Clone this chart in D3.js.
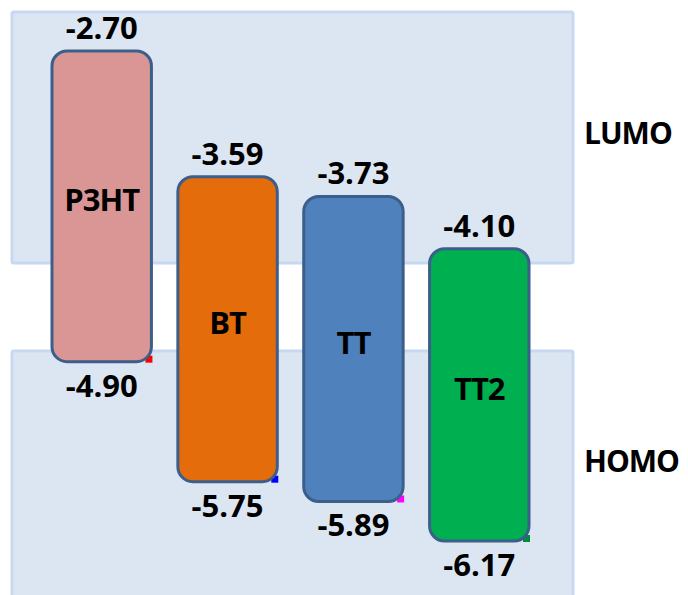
<!DOCTYPE html>
<html>
<head>
<meta charset="utf-8">
<script src="https://cdn.jsdelivr.net/npm/d3@7"></script>
<style>
  html, body { margin: 0; padding: 0; background: #ffffff; }
  svg { display: block; }
  text { font-family: "Open Sans", Lato, sans-serif; font-weight: bold; fill: #000; }
</style>
</head>
<body>
<svg id="chart" width="688" height="595"></svg>
<script>
// Frontier orbital energies (eV) of the donor polymer and the three small molecules
const materials = ["P3HT", "BT", "TT", "TT2"];
const lumo = [-2.70, -3.59, -3.73, -4.10];
const homo = [-4.90, -5.75, -5.89, -6.17];
const fills = ["#d99694", "#e46c0a", "#4f81bd", "#00b050"];
const cornerColors = ["#ff0000", "#0000ff", "#ff00ff", "#008a3e"];
const levelNames = ["LUMO", "HOMO"];

const svg = d3.select("#chart");

// energy axis (not drawn): more negative energies lie lower on the page
const y = d3.scaleLinear().domain([-2.70, -6.17]).range([51, 541]);
const x = d3.scaleBand().domain(materials).range([52, 529]).paddingInner(0.21).paddingOuter(0);

const FS = 31;

// shaded LUMO / HOMO regions
const regions = [
  { name: levelNames[0], x0: 12, x1: 573, y0: 12, y1: 263, labelY: 144 },
  { name: levelNames[1], x0: 12, x1: 573, y0: 351, y1: 606, labelY: 472 }
];
svg.selectAll("rect.region").data(regions).join("rect")
  .attr("class", "region")
  .attr("x", d => d.x0).attr("y", d => d.y0)
  .attr("width", d => d.x1 - d.x0).attr("height", d => d.y1 - d.y0)
  .attr("rx", 2)
  .attr("fill", "#dce6f2")
  .attr("stroke", "#c6d9f1").attr("stroke-width", 3);

svg.selectAll("text.region-label").data(regions).join("text")
  .attr("class", "region-label")
  .attr("x", 584).attr("y", d => d.labelY)
  .attr("font-size", 30)
  .attr("letter-spacing", -1)
  .text(d => d.name);

const rows = materials.map((m, i) => ({ name: m, lumo: lumo[i], homo: homo[i], fill: fills[i], corner: cornerColors[i] }));

// small colour tab peeking out at each bar's lower-right corner
svg.selectAll("rect.corner").data(rows).join("rect")
  .attr("class", "corner")
  .attr("x", d => x(d.name) + x.bandwidth() - 6)
  .attr("y", d => y(d.homo) - 6)
  .attr("width", 7).attr("height", 7)
  .attr("fill", d => d.corner);

// energy bars spanning LUMO to HOMO
svg.selectAll("rect.bar").data(rows).join("rect")
  .attr("class", "bar")
  .attr("x", d => x(d.name))
  .attr("y", d => y(d.lumo))
  .attr("width", x.bandwidth())
  .attr("height", d => y(d.homo) - y(d.lumo))
  .attr("rx", 15).attr("ry", 15)
  .attr("fill", d => d.fill)
  .attr("stroke", "#3b5e8a").attr("stroke-width", 3);

// material names inside the bars
svg.selectAll("text.name").data(rows).join("text")
  .attr("class", "name")
  .attr("x", d => x(d.name) + x.bandwidth() / 2)
  .attr("y", d => (y(d.lumo) + y(d.homo)) / 2 + 5)
  .attr("text-anchor", "middle")
  .attr("font-size", FS)
  .attr("letter-spacing", -1)
  .text(d => d.name);

// LUMO values above each bar
svg.selectAll("text.lumo").data(rows).join("text")
  .attr("class", "lumo")
  .attr("x", d => x(d.name) + x.bandwidth() / 2)
  .attr("y", d => y(d.lumo) - 12)
  .attr("text-anchor", "middle")
  .attr("font-size", FS)
  .text(d => d.lumo.toFixed(2));

// HOMO values below each bar
svg.selectAll("text.homo").data(rows).join("text")
  .attr("class", "homo")
  .attr("x", d => x(d.name) + x.bandwidth() / 2)
  .attr("y", d => y(d.homo) + 35)
  .attr("text-anchor", "middle")
  .attr("font-size", FS)
  .text(d => d.homo.toFixed(2));
</script>
</body>
</html>
